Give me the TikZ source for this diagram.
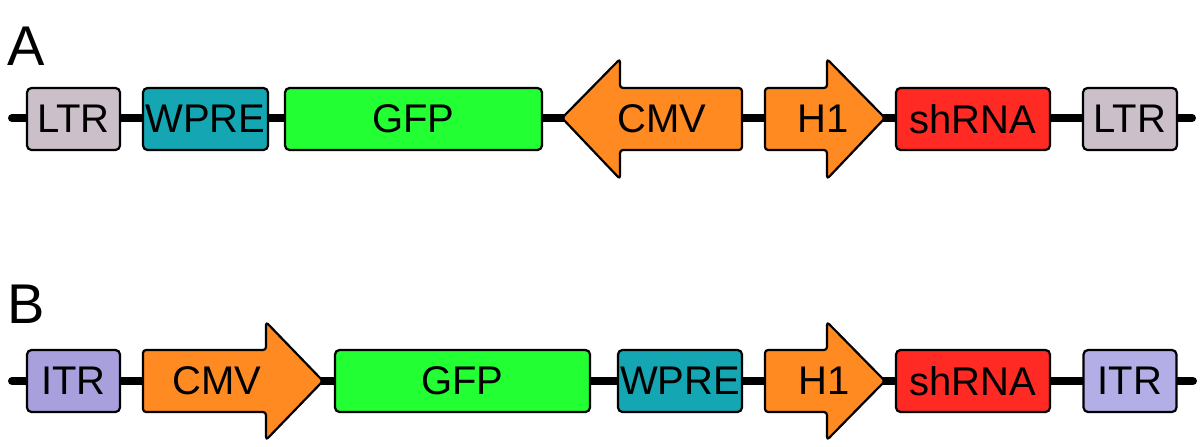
\documentclass[tikz,border=0pt]{standalone}
\usepackage{fontspec}
\setmainfont{Liberation Sans}
\definecolor{ltrc}{HTML}{CBC0CA}
\definecolor{wprec}{HTML}{14A6B2}
\definecolor{gfpc}{HTML}{22FF33}
\definecolor{orc}{HTML}{FF8A22}
\definecolor{redc}{HTML}{FF2A24}
\definecolor{itrc}{HTML}{A7A0DD}
\definecolor{itrc2}{HTML}{B3AEE6}
\begin{document}
\begin{tikzpicture}[x=1pt,y=-1pt,
  backbone/.style={line width=8pt,line cap=round,black},
  part/.style={draw=black,line width=2.2pt,rounded corners=4.5pt,inner sep=0pt,font=\fontsize{40}{44}\selectfont},
  arrowpart/.style={draw=black,line width=2.2pt,rounded corners=3pt,line join=round},
  lbl/.style={inner sep=0pt,font=\fontsize{40}{44}\selectfont},
  panel/.style={inner sep=0pt,anchor=base west,font=\fontsize{56}{60}\selectfont}]
\useasboundingbox (0,0) rectangle (1200,447);
% panel labels
\node[panel] (pa) at (7,65) {A};
\node[panel] (pb) at (7,323) {B};
% ---------- Row A ----------
\coordinate (a0) at (12,118);
\coordinate (a1) at (1192,118);
\draw[backbone] (a0) -- (a1);
\node[part,fill=ltrc,minimum width=93pt,minimum height=62pt] (altr1) at (73.5,119) {LTR};
\node[part,fill=wprec,minimum width=125pt,minimum height=62pt] (awpre) at (205.5,119) {WPRE};
\node[part,fill=gfpc,minimum width=257pt,minimum height=62pt] (agfp) at (413.5,119) {GFP};
\filldraw[arrowpart,fill=orc] (562,118) -- (620,59) -- (620,88) -- (742,88) -- (742,150) -- (620,150) -- (620,179) -- cycle;
\node[lbl] (acmv) at (662,119) {CMV};
\filldraw[arrowpart,fill=orc] (885,118) -- (827,59) -- (827,88) -- (765,88) -- (765,150) -- (827,150) -- (827,179) -- cycle;
\node[lbl] (ah1) at (823,119) {H1};
\node[part,fill=redc,minimum width=154pt,minimum height=62pt] (ash) at (973,119) {shRNA};
\node[part,fill=ltrc,minimum width=94pt,minimum height=62pt] (altr2) at (1130,119) {LTR};
% ---------- Row B ----------
\coordinate (b0) at (12,381);
\coordinate (b1) at (1193,381);
\draw[backbone] (b0) -- (b1);
\node[part,fill=itrc,minimum width=93pt,minimum height=62pt] (bitr1) at (73.5,381) {ITR};
\filldraw[arrowpart,fill=orc] (323,381) -- (266,322) -- (266,350) -- (143,350) -- (143,412) -- (266,412) -- (266,440) -- cycle;
\node[lbl] (bcmv) at (217,381) {CMV};
\node[part,fill=gfpc,minimum width=255pt,minimum height=62pt] (bgfp) at (462.5,381) {GFP};
\node[part,fill=wprec,minimum width=124pt,minimum height=62pt] (bwpre) at (680,381) {WPRE};
\filldraw[arrowpart,fill=orc] (885,381) -- (827,322) -- (827,350) -- (765,350) -- (765,412) -- (827,412) -- (827,440) -- cycle;
\node[lbl] (bh1) at (824,381) {H1};
\node[part,fill=redc,minimum width=154pt,minimum height=62pt] (bsh) at (973,381) {shRNA};
\node[part,fill=itrc2,minimum width=93pt,minimum height=62pt] (bitr2) at (1130,381) {ITR};
\end{tikzpicture}
\end{document}
